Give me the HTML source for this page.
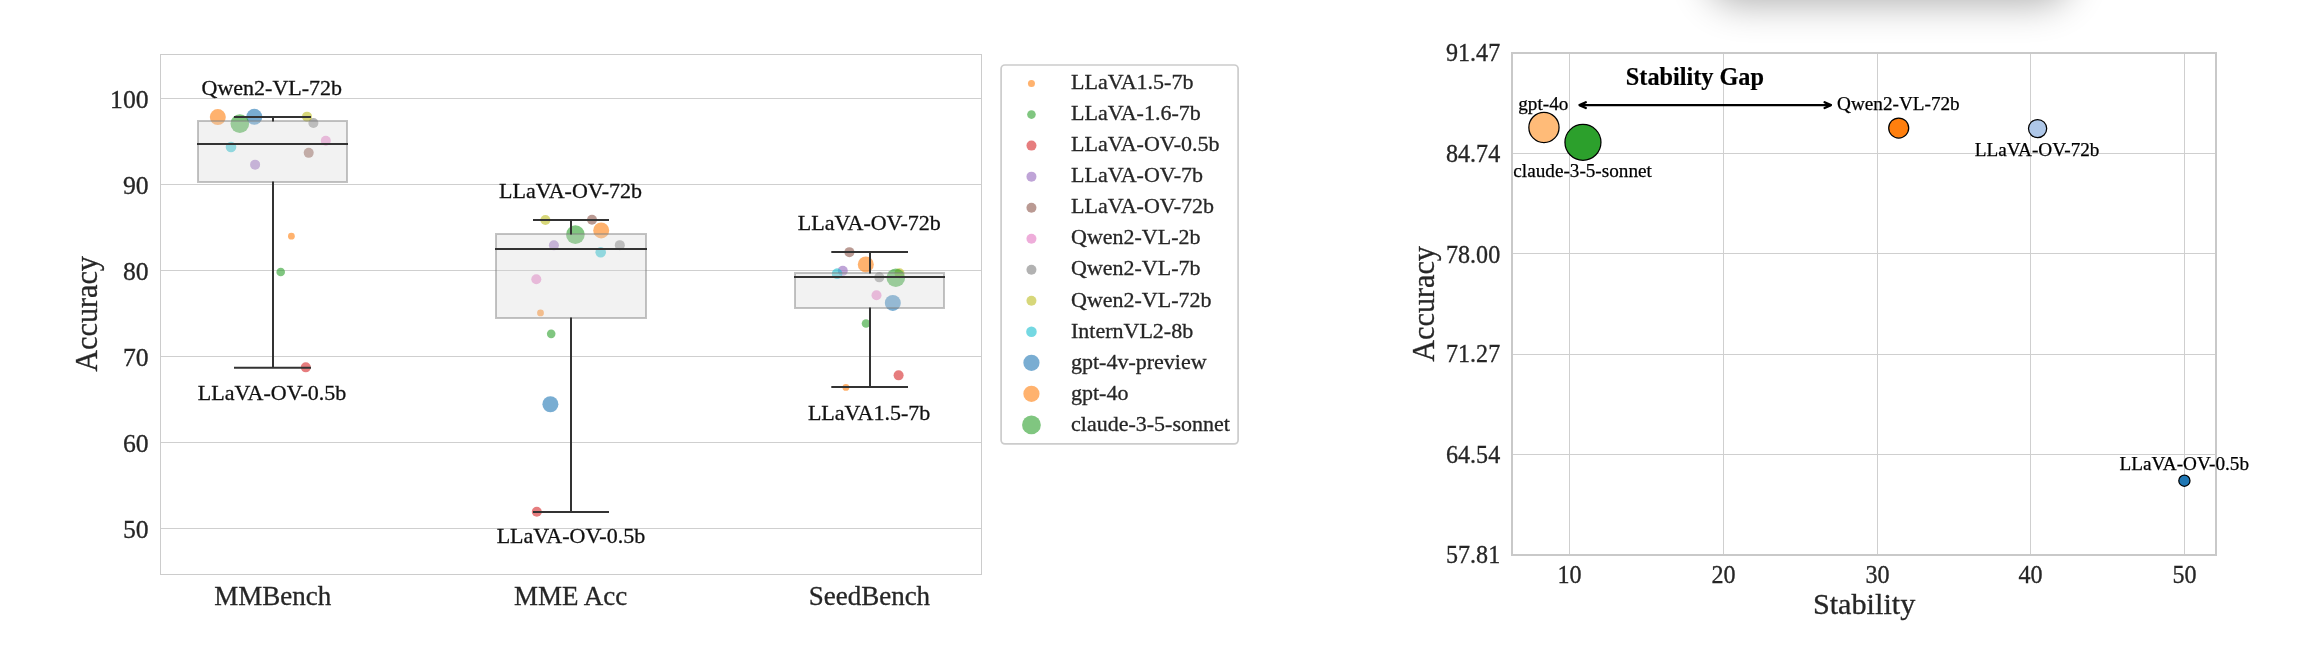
<!DOCTYPE html>
<html lang="en"><head><meta charset="utf-8"><title>Accuracy and Stability</title>
<style>
html,body{margin:0;padding:0;background:#fff;}
body{width:2310px;height:656px;overflow:hidden;position:relative;font-family:"Liberation Serif",serif;}
svg{position:absolute;left:0;top:0;display:block;will-change:transform;}
svg text{font-family:"Liberation Serif",serif;fill:#262626;stroke:#262626;stroke-width:0.3px;}
.shadow{position:absolute;left:1706px;top:-100px;width:366px;height:80px;border-radius:34px;background:#fff;
 box-shadow:0 25px 36px 0 rgba(0,0,0,0.30);}
.grid{stroke:#cfcfcf;stroke-width:1;}
.ann{font-size:22px;fill:#111;stroke:#111;}
.tk{font-size:25.7px;}
.xt{font-size:27px;}
.lab{font-size:30.2px;}
.lg{font-size:22px;}
.tk2{font-size:24.1px;}
.an2{font-size:19.2px;fill:#000;stroke:#000;stroke-width:0.25px;}
</style></head><body>
<div class="shadow"></div>
<svg width="2310" height="656" viewBox="0 0 2310 656">

<g id="boxplot">
<line class="grid" x1="160.5" x2="981.5" y1="98.5" y2="98.5"/>
<line class="grid" x1="160.5" x2="981.5" y1="184.5" y2="184.5"/>
<line class="grid" x1="160.5" x2="981.5" y1="270.5" y2="270.5"/>
<line class="grid" x1="160.5" x2="981.5" y1="356.5" y2="356.5"/>
<line class="grid" x1="160.5" x2="981.5" y1="442.5" y2="442.5"/>
<line class="grid" x1="160.5" x2="981.5" y1="528.5" y2="528.5"/>
<rect x="160.5" y="54.5" width="821.0" height="520.0" fill="none" stroke="#cccccc" stroke-width="1"/>
<circle cx="291.4" cy="236.15" r="3.4" fill="#ff7f0e" fill-opacity="0.6"/>
<circle cx="280.7" cy="272.05" r="4.3" fill="#2ca02c" fill-opacity="0.6"/>
<circle cx="305.8" cy="367.35" r="5" fill="#d62728" fill-opacity="0.6"/>
<circle cx="255.1" cy="164.65" r="5" fill="#9467bd" fill-opacity="0.6"/>
<circle cx="308.7" cy="152.85" r="5" fill="#8c564b" fill-opacity="0.6"/>
<circle cx="325.8" cy="140.75" r="5" fill="#e377c2" fill-opacity="0.6"/>
<circle cx="313.4" cy="123.05" r="5" fill="#7f7f7f" fill-opacity="0.6"/>
<circle cx="307.0" cy="116.65" r="5" fill="#bcbd22" fill-opacity="0.6"/>
<circle cx="231.0" cy="146.95" r="5.3" fill="#17becf" fill-opacity="0.6"/>
<circle cx="254.3" cy="116.85" r="8" fill="#1f77b4" fill-opacity="0.6"/>
<circle cx="217.8" cy="117.05" r="8" fill="#ff7f0e" fill-opacity="0.6"/>
<circle cx="239.8" cy="123.65" r="9.3" fill="#2ca02c" fill-opacity="0.6"/>
<circle cx="540.5" cy="312.95" r="3.4" fill="#ff7f0e" fill-opacity="0.6"/>
<circle cx="551.2" cy="333.85" r="4.3" fill="#2ca02c" fill-opacity="0.6"/>
<circle cx="536.8" cy="511.75" r="5" fill="#d62728" fill-opacity="0.6"/>
<circle cx="553.9" cy="245.35" r="5" fill="#9467bd" fill-opacity="0.6"/>
<circle cx="592.0" cy="219.75" r="5" fill="#8c564b" fill-opacity="0.6"/>
<circle cx="536.3" cy="279.25" r="5" fill="#e377c2" fill-opacity="0.6"/>
<circle cx="619.8" cy="245.15" r="5" fill="#7f7f7f" fill-opacity="0.6"/>
<circle cx="545.4" cy="220.05" r="5" fill="#bcbd22" fill-opacity="0.6"/>
<circle cx="600.7" cy="252.25" r="5.3" fill="#17becf" fill-opacity="0.6"/>
<circle cx="550.4" cy="404.25" r="8" fill="#1f77b4" fill-opacity="0.6"/>
<circle cx="601.2" cy="230.45" r="8" fill="#ff7f0e" fill-opacity="0.6"/>
<circle cx="575.4" cy="234.65" r="9.3" fill="#2ca02c" fill-opacity="0.6"/>
<circle cx="845.9" cy="387.45" r="3.4" fill="#ff7f0e" fill-opacity="0.6"/>
<circle cx="866.0" cy="323.55" r="4.3" fill="#2ca02c" fill-opacity="0.6"/>
<circle cx="898.6" cy="375.35" r="5" fill="#d62728" fill-opacity="0.6"/>
<circle cx="842.8" cy="270.85" r="5" fill="#9467bd" fill-opacity="0.6"/>
<circle cx="849.4" cy="252.15" r="5" fill="#8c564b" fill-opacity="0.6"/>
<circle cx="876.5" cy="295.25" r="5" fill="#e377c2" fill-opacity="0.6"/>
<circle cx="879.3" cy="277.35" r="5" fill="#7f7f7f" fill-opacity="0.6"/>
<circle cx="899.5" cy="273.25" r="5" fill="#bcbd22" fill-opacity="0.6"/>
<circle cx="837.1" cy="273.65" r="5.3" fill="#17becf" fill-opacity="0.6"/>
<circle cx="892.8" cy="302.95" r="8" fill="#1f77b4" fill-opacity="0.6"/>
<circle cx="865.8" cy="264.45" r="8" fill="#ff7f0e" fill-opacity="0.6"/>
<circle cx="895.8" cy="277.75" r="9.3" fill="#2ca02c" fill-opacity="0.6"/>
<rect x="198" y="121" width="149" height="61" fill="#d3d3d3" fill-opacity="0.3" stroke="#808080" stroke-opacity="0.47" stroke-width="2"/>
<rect x="496" y="234" width="150" height="84" fill="#d3d3d3" fill-opacity="0.3" stroke="#808080" stroke-opacity="0.47" stroke-width="2"/>
<rect x="795" y="273" width="149" height="35" fill="#d3d3d3" fill-opacity="0.3" stroke="#808080" stroke-opacity="0.47" stroke-width="2"/>
<g stroke="#333333" stroke-width="2" fill="none"><line x1="273" x2="273" y1="117" y2="121.5"/><line x1="273" x2="273" y1="181.5" y2="367.8"/><line x1="234" x2="311" y1="117" y2="117"/><line x1="234" x2="311" y1="367.8" y2="367.8"/><line x1="197" x2="348" y1="144" y2="144"/></g>
<g stroke="#333333" stroke-width="2" fill="none"><line x1="571" x2="571" y1="220" y2="234.5"/><line x1="571" x2="571" y1="317.5" y2="512"/><line x1="533" x2="609" y1="220" y2="220"/><line x1="533" x2="609" y1="512" y2="512"/><line x1="495" x2="647" y1="249" y2="249"/></g>
<g stroke="#333333" stroke-width="2" fill="none"><line x1="870" x2="870" y1="252" y2="273.5"/><line x1="870" x2="870" y1="307.5" y2="387"/><line x1="831.3" x2="908" y1="252" y2="252"/><line x1="831.3" x2="908" y1="387" y2="387"/><line x1="794" x2="945" y1="277" y2="277"/></g>
<text class="ann" x="271.8" y="94.8" text-anchor="middle">Qwen2-VL-72b</text>
<text class="ann" x="272.1" y="400.3" text-anchor="middle">LLaVA-OV-0.5b</text>
<text class="ann" x="570.5" y="198.0" text-anchor="middle">LLaVA-OV-72b</text>
<text class="ann" x="570.9" y="543.1" text-anchor="middle">LLaVA-OV-0.5b</text>
<text class="ann" x="869.3" y="230.1" text-anchor="middle">LLaVA-OV-72b</text>
<text class="ann" x="869.1" y="420.0" text-anchor="middle">LLaVA1.5-7b</text>
<text class="tk" x="148.6" y="108.0" text-anchor="end">100</text>
<text class="tk" x="148.6" y="194.0" text-anchor="end">90</text>
<text class="tk" x="148.6" y="280.0" text-anchor="end">80</text>
<text class="tk" x="148.6" y="366.0" text-anchor="end">70</text>
<text class="tk" x="148.6" y="452.0" text-anchor="end">60</text>
<text class="tk" x="148.6" y="538.0" text-anchor="end">50</text>
<text class="xt" x="272.7" y="605.3" text-anchor="middle">MMBench</text>
<text class="xt" x="570.6" y="605.3" text-anchor="middle">MME Acc</text>
<text class="xt" x="869.4" y="605.3" text-anchor="middle">SeedBench</text>
<text class="lab" transform="translate(96.9 313.9) rotate(-90) scale(1 1.06)" text-anchor="middle">Accuracy</text>
</g>
<g id="legend">
<rect x="1001.1" y="65.0" width="237.0" height="378.9" rx="3.8" ry="3.8" fill="#ffffff" fill-opacity="0.8" stroke="#cccccc" stroke-width="1.7"/>
<circle cx="1031.45" cy="83.55" r="3.5" fill="#ff7f0e" fill-opacity="0.6"/>
<text class="lg" x="1071" y="89.0">LLaVA1.5-7b</text>
<circle cx="1031.45" cy="114.58" r="4.3" fill="#2ca02c" fill-opacity="0.6"/>
<text class="lg" x="1071" y="120.1">LLaVA-1.6-7b</text>
<circle cx="1031.45" cy="145.61" r="5" fill="#d62728" fill-opacity="0.6"/>
<text class="lg" x="1071" y="151.1">LLaVA-OV-0.5b</text>
<circle cx="1031.45" cy="176.64" r="5" fill="#9467bd" fill-opacity="0.6"/>
<text class="lg" x="1071" y="182.2">LLaVA-OV-7b</text>
<circle cx="1031.45" cy="207.67" r="5" fill="#8c564b" fill-opacity="0.6"/>
<text class="lg" x="1071" y="213.3">LLaVA-OV-72b</text>
<circle cx="1031.45" cy="238.70" r="5" fill="#e377c2" fill-opacity="0.6"/>
<text class="lg" x="1071" y="244.3">Qwen2-VL-2b</text>
<circle cx="1031.45" cy="269.73" r="5" fill="#7f7f7f" fill-opacity="0.6"/>
<text class="lg" x="1071" y="275.4">Qwen2-VL-7b</text>
<circle cx="1031.45" cy="300.76" r="5" fill="#bcbd22" fill-opacity="0.6"/>
<text class="lg" x="1071" y="306.5">Qwen2-VL-72b</text>
<circle cx="1031.45" cy="331.79" r="5.3" fill="#17becf" fill-opacity="0.6"/>
<text class="lg" x="1071" y="337.6">InternVL2-8b</text>
<circle cx="1031.45" cy="362.82" r="8.1" fill="#1f77b4" fill-opacity="0.6"/>
<text class="lg" x="1071" y="368.6">gpt-4v-preview</text>
<circle cx="1031.45" cy="393.85" r="8.1" fill="#ff7f0e" fill-opacity="0.6"/>
<text class="lg" x="1071" y="399.7">gpt-4o</text>
<circle cx="1031.45" cy="424.88" r="9.4" fill="#2ca02c" fill-opacity="0.6"/>
<text class="lg" x="1071" y="430.8">claude-3-5-sonnet</text>
</g>
<g id="scatter">
<line class="grid" x1="1569.5" x2="1569.5" y1="53.0" y2="555.0" style="stroke-width:1"/>
<line class="grid" x1="1723.5" x2="1723.5" y1="53.0" y2="555.0" style="stroke-width:1"/>
<line class="grid" x1="1877.5" x2="1877.5" y1="53.0" y2="555.0" style="stroke-width:1"/>
<line class="grid" x1="2030.5" x2="2030.5" y1="53.0" y2="555.0" style="stroke-width:1"/>
<line class="grid" x1="2184.5" x2="2184.5" y1="53.0" y2="555.0" style="stroke-width:1"/>
<line class="grid" x1="1512.0" x2="2216.0" y1="153.5" y2="153.5" style="stroke-width:1"/>
<line class="grid" x1="1512.0" x2="2216.0" y1="253.5" y2="253.5" style="stroke-width:1"/>
<line class="grid" x1="1512.0" x2="2216.0" y1="354.5" y2="354.5" style="stroke-width:1"/>
<line class="grid" x1="1512.0" x2="2216.0" y1="454.5" y2="454.5" style="stroke-width:1"/>
<rect x="1512.0" y="53.0" width="704.0" height="502.0" fill="none" stroke="#c9c9c9" stroke-width="2"/>
<circle cx="1543.95" cy="127.45" r="15.1" fill="#ffbb78" stroke="#000" stroke-width="1.25"/>
<circle cx="1582.95" cy="142.3" r="18.0" fill="#2ca02c" stroke="#000" stroke-width="1.25"/>
<circle cx="1898.7" cy="128.0" r="10.0" fill="#ff7f0e" stroke="#000" stroke-width="1.25"/>
<circle cx="2037.6" cy="128.6" r="9.1" fill="#aec7e8" stroke="#000" stroke-width="1.25"/>
<circle cx="2184.4" cy="480.7" r="5.6" fill="#1f77b4" stroke="#000" stroke-width="1.25"/>
<g stroke="#000" stroke-width="2.3" fill="none" stroke-linejoin="round" stroke-linecap="round"><line x1="1580" x2="1830.5" y1="105.1" y2="105.1"/><polyline points="1585.8,102.2 1579.5,105.1 1585.8,108.0"/><polyline points="1824.6,102.2 1830.9,105.1 1824.6,108.0"/></g>
<text x="1694.9" y="85.2" text-anchor="middle" style="font-size:24.25px;font-weight:bold;fill:#000;stroke:#000;stroke-width:0.2px">Stability Gap</text>
<text class="an2" x="1543.3" y="109.6" text-anchor="middle">gpt-4o</text>
<text class="an2" x="1582.6" y="177.0" text-anchor="middle">claude-3-5-sonnet</text>
<text class="an2" x="1898.4" y="109.6" text-anchor="middle">Qwen2-VL-72b</text>
<text class="an2" x="2037.1" y="155.8" text-anchor="middle">LLaVA-OV-72b</text>
<text class="an2" x="2184.3" y="470.0" text-anchor="middle">LLaVA-OV-0.5b</text>
<text class="tk2" transform="translate(1500.2 61.0) scale(1 1.045)" text-anchor="end">91.47</text>
<text class="tk2" transform="translate(1500.2 162.0) scale(1 1.045)" text-anchor="end">84.74</text>
<text class="tk2" transform="translate(1500.2 262.5) scale(1 1.045)" text-anchor="end">78.00</text>
<text class="tk2" transform="translate(1500.2 362.0) scale(1 1.045)" text-anchor="end">71.27</text>
<text class="tk2" transform="translate(1500.2 463.0) scale(1 1.045)" text-anchor="end">64.54</text>
<text class="tk2" transform="translate(1500.2 563.0) scale(1 1.045)" text-anchor="end">57.81</text>
<text class="tk2" transform="translate(1569.5 583.1) scale(1 1.045)" text-anchor="middle">10</text>
<text class="tk2" transform="translate(1723.5 583.1) scale(1 1.045)" text-anchor="middle">20</text>
<text class="tk2" transform="translate(1877.5 583.1) scale(1 1.045)" text-anchor="middle">30</text>
<text class="tk2" transform="translate(2030.5 583.1) scale(1 1.045)" text-anchor="middle">40</text>
<text class="tk2" transform="translate(2184.5 583.1) scale(1 1.045)" text-anchor="middle">50</text>
<text class="lab" x="1864.1" y="614.2" text-anchor="middle">Stability</text>
<text class="lab" transform="translate(1433.9 303.9) rotate(-90) scale(1 1.06)" text-anchor="middle">Accuracy</text>
</g>
</svg></body></html>
